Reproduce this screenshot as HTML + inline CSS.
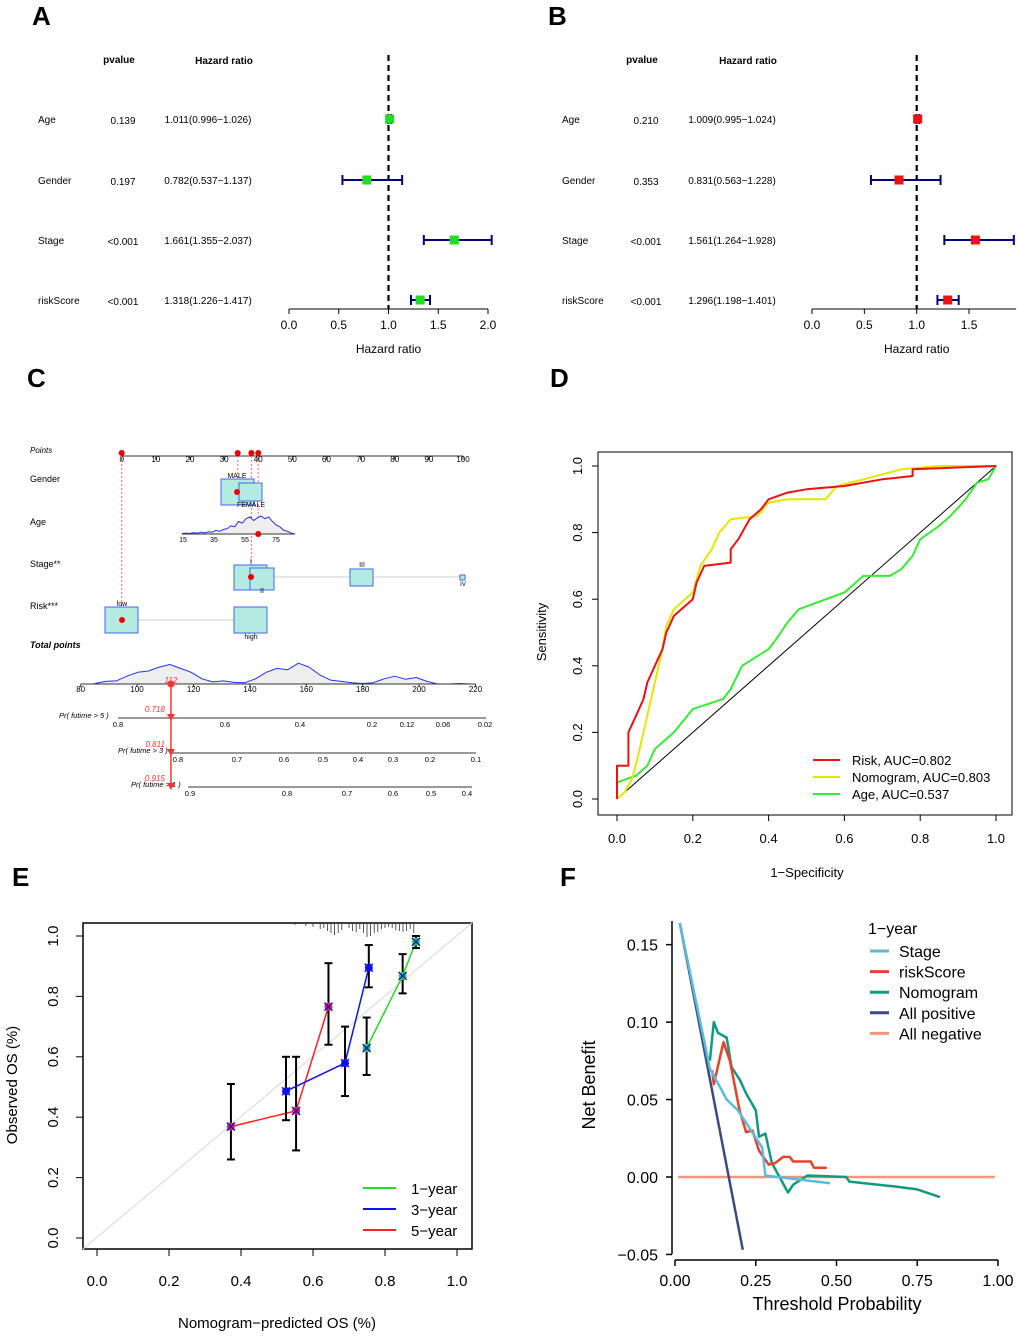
<!DOCTYPE html>
<html><head><meta charset="utf-8">
<style>
html,body{margin:0;padding:0;background:#fff;}
svg{display:block;font-family:"Liberation Sans",Arial,sans-serif;}
</style></head>
<body>
<svg id="fig" width="1020" height="1336" viewBox="0 0 1020 1336" xmlns="http://www.w3.org/2000/svg">
<g font-size="26" font-weight="bold">
<text x="32" y="25">A</text>
<text x="548" y="25">B</text>
<text x="27" y="387">C</text>
<text x="550" y="387">D</text>
<text x="12" y="886">E</text>
<text x="560" y="886">F</text>
</g>
</svg>
<script>
const NS='http://www.w3.org/2000/svg';
const svg=document.getElementById('fig');
function mk(tag,attrs,name,parent){
  const el=document.createElementNS(NS,tag);
  for(const k in attrs) el.setAttribute(k,attrs[k]);
  
  
  (parent||svg).appendChild(el);
  return el;
}
function txt(x,y,s,size,name,opt){
  opt=opt||{};
  const a={x:x,y:y,'font-size':size,'text-anchor':opt.anchor||'start',fill:opt.fill||'#000'};
  if(opt.rot!==undefined) a.transform='rotate('+opt.rot+' '+x+' '+y+')';
  if(opt.italic) a['font-style']='italic';
  if(opt.bold) a['font-weight']='bold';
  const t=mk('text',a,name);
  t.textContent=s;
  return t;
}
function line(x1,y1,x2,y2,stroke,w,name,dash){
  const a={x1:x1,y1:y1,x2:x2,y2:y2,stroke:stroke,'stroke-width':w};
  if(dash) a['stroke-dasharray']=dash;
  return mk('line',a,name);
}
function poly(pts,stroke,w,name,fill){
  return mk('polyline',{points:pts.map(p=>p[0].toFixed(1)+','+p[1].toFixed(1)).join(' '),fill:fill||'none',stroke:stroke,'stroke-width':w,'stroke-linejoin':'round'},name);
}

/* ===== Forest plots A & B ===== */
const forestVars=['Age','Gender','Stage','riskScore'];
const forestA_p=['0.139','0.197','<0.001','<0.001'];
const forestA_hr=[1.011,0.782,1.661,1.318];
const forestA_lo=[0.996,0.537,1.355,1.226];
const forestA_hi=[1.026,1.137,2.037,1.417];
const forestB_p=['0.210','0.353','<0.001','<0.001'];
const forestB_hr=[1.009,0.831,1.561,1.296];
const forestB_lo=[0.995,0.563,1.264,1.198];
const forestB_hi=[1.024,1.228,1.928,1.401];
const forestA_ticks=[0,0.5,1.0,1.5,2.0];
const forestB_ticks=[0,0.5,1.0,1.5];
function forest(o){
  const X=v=>o.x0+v*o.scale;
  const rowY=[119,180,240,300];
  txt(o.px,63,'pvalue',10,'pvalue-header',{anchor:'middle',bold:true});
  txt(o.hx,64,'Hazard ratio',10,'hazard-ratio-header',{anchor:'middle',bold:true});
  line(X(1),55,X(1),309,'#000',2.2,'reference-line','6,4');
  forestVars.forEach((v,i)=>{
    const y=rowY[i];
    txt(o.lx,y+4,v,10,'variable-label-'+v.toLowerCase());
    txt(o.px+4,y+5,o.p[i],10,'pvalue-'+v.toLowerCase(),{anchor:'middle'});
    txt(o.hx-16,y+4,o.hr[i].toFixed(3)+'('+o.lo[i].toFixed(3)+'\u2212'+o.hi[i].toFixed(3)+')',10,'hr-text-'+v.toLowerCase(),{anchor:'middle'});
    line(X(o.lo[i]),y,X(o.hi[i]),y,'#00007F',2,'ci-line-'+v.toLowerCase());
    line(X(o.lo[i]),y-5,X(o.lo[i]),y+5,'#00007F',2,'ci-cap-low');
    line(X(o.hi[i]),y-5,X(o.hi[i]),y+5,'#00007F',2,'ci-cap-high');
    mk('rect',{x:X(o.hr[i])-4.5,y:y-4.5,width:9,height:9,fill:o.col},'hr-point-'+v.toLowerCase());
  });
  line(X(0),309,X(o.axEnd),309,'#000',1,'x-axis-line');
  o.ticks.forEach(t=>{
    line(X(t),309,X(t),314,'#000',1,'x-tick');
    txt(X(t),329,t.toFixed(1),12,'x-tick-label',{anchor:'middle'});
  });
  txt(X(1),353,'Hazard ratio',12,'x-axis-title',{anchor:'middle'});
}
forest({x0:289,scale:99.5,px:119,hx:224,lx:38,p:forestA_p,hr:forestA_hr,lo:forestA_lo,hi:forestA_hi,col:'#22dd22',ticks:forestA_ticks,axEnd:2.0});
forest({x0:812,scale:104.7,px:642,hx:748,lx:562,p:forestB_p,hr:forestB_hr,lo:forestB_lo,hi:forestB_hi,col:'#ee1111',ticks:forestB_ticks,axEnd:1.95});

/* ===== Nomogram C ===== */
const nomoPointsTicks=[0,10,20,30,40,50,60,70,80,90,100];
const nomoTotalTicks=[80,100,120,140,160,180,200,220];
const nomoAgeTicks=[15,35,55,75];
const ageDensity=[0.02,0.05,0.03,0.08,0.04,0.1,0.06,0.12,0.1,0.2,0.15,0.25,0.3,0.45,0.4,0.7,0.6,0.85,0.95,0.75,0.9,1.0,0.85,0.95,0.7,0.5,0.4,0.2,0.15,0.05,0.0];
const totalDensity=[0.02,0.1,0.12,0.3,0.45,0.5,0.65,0.75,0.6,0.45,0.2,0.08,0.12,0.06,0.05,0.2,0.45,0.6,0.55,0.8,0.65,0.35,0.15,0.1,0.05,0.02,0.05,0.2,0.3,0.18,0.25,0.1,0.0,0.0,0.02,0.0];
const pr5Ticks=['0.8','0.6','0.4','0.2','0.12','0.06','0.02'];
const pr3Ticks=['0.8','0.7','0.6','0.5','0.4','0.3','0.2','0.1'];
const pr1Ticks=['0.9','0.8','0.7','0.6','0.5','0.4'];
const totalScore=112, pr5Val='0.718', pr3Val='0.811', pr1Val='0.915';
(function(){
  const PX=v=>121.7+v*3.413;
  const TX=v=>80.7+(v-80)*2.82;
  const fs=8;
  txt(30,453,'Points',8,'points-label',{italic:true});
  line(PX(0),456,PX(100),456,'#333',1,'points-axis');
  nomoPointsTicks.forEach(t=>{line(PX(t),456,PX(t),460,'#333',1,'points-tick');txt(PX(t),462,String(t),fs,'points-tick-label',{anchor:'middle'});});
  txt(30,482,'Gender',9,'gender-label');
  txt(30,525,'Age',9,'age-label');
  txt(30,567,'Stage**',9,'stage-label');
  txt(30,609,'Risk***',9,'risk-label');
  txt(30,648,'Total points',9,'total-points-label',{italic:true,bold:true});
  [0,34,38,40].forEach(v=>line(PX(v),456,PX(v),v==0?620:(v==34?492:(v==38?577:534)),'#f66',1,'guide-line','2,2'));
  [0,34,38,40].forEach(v=>mk('circle',{cx:PX(v),cy:453,r:3,fill:'#e00'},'selected-point'));
  mk('rect',{x:221,y:479,width:33,height:26,fill:'#b3ebe0',stroke:'#4466ee'},'gender-male-box');
  mk('rect',{x:239,y:483,width:23,height:18,fill:'#b3ebe0',stroke:'#4466ee'},'gender-female-box');
  txt(237,478,'MALE',7,'male-label',{anchor:'middle'});
  txt(251,507,'FEMALE',7,'female-label',{anchor:'middle'});
  mk('circle',{cx:237,cy:492,r:3,fill:'#e00'},'gender-point');
  const ax0=182,ax1=295,ay=534;
  const pts=ageDensity.map((d,i)=>[ax0+i*(ax1-ax0)/(ageDensity.length-1),ay-d*18]);
  poly([[ax0,ay]].concat(pts,[[ax1,ay]]),'#2233ee',1,'age-density',"#eee");
  line(ax0,ay,ax1,ay,'#333',1,'age-axis');
  const AX=a=>183+(a-15)*1.55;
  nomoAgeTicks.forEach(t=>txt(AX(t),542,String(t),7,'age-tick-label',{anchor:'middle'}));
  mk('circle',{cx:PX(40),cy:534,r:3,fill:'#e00'},'age-point');
  line(262,577,462,577,'#ccc',1,'stage-line');
  mk('rect',{x:234,y:565,width:33,height:25,fill:'#b3ebe0',stroke:'#4466ee'},'stage-i-box');
  mk('rect',{x:250,y:568,width:24,height:22,fill:'#b3ebe0',stroke:'#4466ee'},'stage-ii-box');
  mk('rect',{x:350,y:569,width:23,height:17,fill:'#b3ebe0',stroke:'#4466ee'},'stage-iii-box');
  mk('rect',{x:460,y:575,width:5,height:5,fill:'#b3ebe0',stroke:'#4466ee'},'stage-iv-box');
  txt(251,564,'I',7,'stage-i-label',{anchor:'middle'});
  txt(262,593,'II',7,'stage-ii-label',{anchor:'middle'});
  txt(362,567,'III',7,'stage-iii-label',{anchor:'middle'});
  txt(463,586,'IV',6,'stage-iv-label',{anchor:'middle'});
  mk('circle',{cx:251,cy:577,r:3,fill:'#e00'},'stage-point');
  line(138,620,234,620,'#ccc',1,'risk-line');
  mk('rect',{x:105,y:607,width:33,height:26,fill:'#b3ebe0',stroke:'#4466ee'},'risk-low-box');
  mk('rect',{x:234,y:607,width:33,height:26,fill:'#b3ebe0',stroke:'#4466ee'},'risk-high-box');
  txt(122,606,'low',7,'risk-low-label',{anchor:'middle'});
  txt(251,639,'high',7,'risk-high-label',{anchor:'middle'});
  mk('circle',{cx:122,cy:620,r:3,fill:'#e00'},'risk-point');
  const t0=TX(85),t1=TX(218),ty=684;
  const tp=totalDensity.map((d,i)=>[t0+i*(t1-t0)/(totalDensity.length-1),ty-d*26]);
  poly([[t0,ty]].concat(tp,[[t1,ty]]),'#2233ee',1,'total-density','#eee');
  line(TX(80),ty,TX(220),ty,'#333',1,'total-axis');
  nomoTotalTicks.forEach(t=>{line(TX(t),ty,TX(t),ty+3,'#333',1,'total-tick');txt(TX(t),692,String(t),8,'total-tick-label',{anchor:'middle'});});
  const prAxis=(y,x0,x1,ticks,pos,label,lx,name)=>{
    line(x0,y,x1,y,'#333',1,name+'-axis');
    ticks.forEach((t,i)=>txt(pos[i],y+9,t,7.5,name+'-tick-label',{anchor:'middle'}));
    txt(lx,y,label,7.5,name+'-label',{italic:true});
  };
  prAxis(718,118,486,pr5Ticks,[118,225,300,372,407,443,485],'Pr( futime > 5 )',59,'pr5');
  prAxis(753,171,476,pr3Ticks,[178,237,284,323,358,393,430,476],'Pr( futime > 3 )',118,'pr3');
  prAxis(787,188,472,pr1Ticks,[190,287,347,393,431,467],'Pr( futime > 1 )',131,'pr1');
  const sx=TX(totalScore);
  line(sx,684,sx,787,'#f33',1.5,'total-score-line');
  mk('circle',{cx:sx,cy:684,r:3.5,fill:'#f33'},'total-score-point');
  txt(sx,683,String(totalScore),8,'total-score-value',{anchor:'middle',fill:'#f33',italic:true});
  [[718,pr5Val],[753,pr3Val],[787,pr1Val]].forEach(([y,v])=>{
    mk('polygon',{points:(sx-4)+','+(y-4)+' '+(sx+4)+','+(y-4)+' '+sx+','+(y+3),fill:'#f33'},'prob-marker');
    txt(sx-6,y-6,v,8,'prob-value',{anchor:'end',fill:'#f33',italic:true});
  });
})();

/* ===== ROC D ===== */
const rocRiskFpr=[0,0,0.03,0.03,0.05,0.07,0.08,0.1,0.12,0.13,0.15,0.18,0.2,0.21,0.23,0.3,0.3,0.32,0.33,0.35,0.38,0.4,0.45,0.5,0.6,0.7,0.78,0.78,1];
const rocRiskTpr=[0,0.1,0.1,0.2,0.25,0.3,0.35,0.4,0.45,0.5,0.55,0.58,0.6,0.65,0.7,0.71,0.75,0.78,0.8,0.84,0.87,0.9,0.92,0.93,0.94,0.96,0.97,0.99,1];
const rocNomoFpr=[0,0.02,0.04,0.06,0.08,0.1,0.12,0.13,0.15,0.2,0.22,0.25,0.27,0.3,0.37,0.4,0.45,0.55,0.58,0.65,0.75,0.85,1];
const rocNomoTpr=[0,0.02,0.06,0.15,0.25,0.35,0.45,0.52,0.57,0.62,0.7,0.75,0.8,0.84,0.85,0.89,0.9,0.9,0.94,0.96,0.99,1,1];
const rocAgeFpr=[0,0,0.05,0.08,0.1,0.15,0.2,0.28,0.3,0.33,0.4,0.42,0.45,0.48,0.6,0.65,0.72,0.75,0.78,0.8,0.85,0.88,0.92,0.95,0.98,1];
const rocAgeTpr=[0,0.05,0.07,0.1,0.15,0.2,0.27,0.3,0.33,0.4,0.45,0.48,0.53,0.57,0.62,0.67,0.67,0.69,0.73,0.78,0.82,0.85,0.9,0.95,0.96,1];
const rocTicks=[0,0.2,0.4,0.6,0.8,1.0];
const rocLegend=['Risk, AUC=0.802','Nomogram, AUC=0.803','Age, AUC=0.537'];
(function(){
  const X=v=>617+v*379, Y=v=>799-v*333;
  mk('rect',{x:598,y:452,width:414,height:363,fill:'none',stroke:'#000','stroke-width':1},'roc-plot-frame');
  line(X(0),Y(0),X(1),Y(1),'#000',1,'roc-diagonal');
  rocTicks.forEach(t=>{
    line(X(t),815,X(t),821,'#000',1,'x-tick');
    txt(X(t),843,t.toFixed(1),13,'x-tick-label',{anchor:'middle'});
    line(592,Y(t),598,Y(t),'#000',1,'y-tick');
    txt(582,Y(t),t.toFixed(1),13,'y-tick-label',{anchor:'middle',rot:-90});
  });
  txt(807,877,'1\u2212Specificity',13,'x-axis-title',{anchor:'middle'});
  txt(546,632,'Sensitivity',13,'y-axis-title',{anchor:'middle',rot:-90});
  const draw=(fx,ty,c,n)=>poly(fx.map((f,i)=>[X(f),Y(ty[i])]),c,2,n);
  draw(rocAgeFpr,rocAgeTpr,'#33ee33','roc-age-curve');
  draw(rocNomoFpr,rocNomoTpr,'#e6e600','roc-nomogram-curve');
  draw(rocRiskFpr,rocRiskTpr,'#ee1111','roc-risk-curve');
  const cols=['#ee1111','#e6e600','#33ee33'];
  rocLegend.forEach((s,i)=>{
    line(813,760+i*17,840,760+i*17,cols[i],2,'legend-line');
    txt(852,765+i*17,s,13,'legend-entry');
  });
})();

/* ===== Calibration E ===== */
const cal1Pred=[0.749,0.849,0.886], cal1Obs=[0.629,0.868,0.981], cal1Lo=[0.54,0.81,0.96], cal1Hi=[0.73,0.94,1.0];
const cal3Pred=[0.525,0.689,0.755], cal3Obs=[0.486,0.579,0.895], cal3Lo=[0.39,0.47,0.83], cal3Hi=[0.60,0.70,0.97];
const cal5Pred=[0.372,0.553,0.643], cal5Obs=[0.369,0.421,0.766], cal5Lo=[0.26,0.29,0.64], cal5Hi=[0.51,0.60,0.91];
const calTicks=[0,0.2,0.4,0.6,0.8,1.0];
const calRug=[0.55,0.58,0.6,0.62,0.63,0.64,0.65,0.66,0.67,0.68,0.7,0.71,0.72,0.73,0.74,0.75,0.76,0.77,0.78,0.79,0.8,0.81,0.82,0.83,0.84,0.85,0.86,0.87,0.88];
const calRugH=[2,3,4,6,5,8,10,12,10,7,5,8,9,6,10,14,13,10,9,6,5,4,5,7,8,9,8,6,10];
(function(){
  const X=v=>97+v*360, Y=v=>1238-v*302;
  mk('rect',{x:83,y:923,width:389,height:326,fill:'none',stroke:'#000','stroke-width':1.5},'calibration-plot-frame');
  line(83,1249,472,923,'#ddd',1.2,'ideal-line');
  calTicks.forEach(t=>{
    line(X(t),1249,X(t),1256,'#000',1,'x-tick');
    txt(X(t),1286,t.toFixed(1),15,'x-tick-label',{anchor:'middle'});
    line(76,Y(t),83,Y(t),'#000',1,'y-tick');
    txt(58,Y(t),t.toFixed(1),15,'y-tick-label',{anchor:'middle',rot:-90});
  });
  calRug.forEach((r,i)=>line(X(r),923,X(r),923+calRugH[i],'#333',0.8,'rug-tick'));
  txt(277,1328,'Nomogram\u2212predicted OS (%)',15,'x-axis-title',{anchor:'middle'});
  txt(17,1085,'Observed OS (%)',15,'y-axis-title',{anchor:'middle',rot:-90});
  const series=[[cal5Pred,cal5Obs,cal5Lo,cal5Hi,'#ff2222','5-year'],[cal3Pred,cal3Obs,cal3Lo,cal3Hi,'#1111ee','3-year'],[cal1Pred,cal1Obs,cal1Lo,cal1Hi,'#22dd22','1-year']];
  series.forEach(([p,o,lo,hi,c,n])=>{
    poly(p.map((v,i)=>[X(v),Y(o[i])]),c,1.5,'calibration-line-'+n);
    p.forEach((v,i)=>{
      line(X(v),Y(lo[i]),X(v),Y(hi[i]),'#000',2,'error-bar');
      line(X(v)-4,Y(lo[i]),X(v)+4,Y(lo[i]),'#000',2,'error-cap');
      line(X(v)-4,Y(hi[i]),X(v)+4,Y(hi[i]),'#000',2,'error-cap');
      mk('circle',{cx:X(v),cy:Y(o[i]),r:4,fill:c},'calibration-point-'+n);
      line(X(v)-4,Y(o[i])-4,X(v)+4,Y(o[i])+4,'#1111ee',1.5,'calibration-cross');
      line(X(v)-4,Y(o[i])+4,X(v)+4,Y(o[i])-4,'#1111ee',1.5,'calibration-cross');
    });
  });
  [['1\u2212year','#22dd22'],['3\u2212year','#1111ee'],['5\u2212year','#ff2222']].forEach(([s,c],i)=>{
    line(363,1188+i*21,396,1188+i*21,c,2,'legend-line');
    txt(411,1194+i*21,s,15,'legend-entry');
  });
})();

/* ===== DCA F ===== */
const dcaTicksX=[0,0.25,0.5,0.75,1.0];
const dcaTicksY=[0.15,0.10,0.05,0.00,-0.05];
const dcaStageX=[0.015,0.108,0.16,0.195,0.27,0.28,0.48];
const dcaStageY=[0.164,0.07,0.05,0.043,0.019,0.001,-0.004];
const dcaRiskX=[0.115,0.12,0.15,0.17,0.2,0.22,0.24,0.26,0.29,0.31,0.335,0.355,0.366,0.42,0.43,0.47];
const dcaRiskY=[0.069,0.06,0.087,0.075,0.043,0.029,0.03,0.017,0.008,0.009,0.013,0.013,0.01,0.01,0.006,0.006];
const dcaNomoX=[0.108,0.12,0.133,0.16,0.175,0.2,0.22,0.25,0.26,0.28,0.3,0.35,0.366,0.41,0.53,0.54,0.675,0.75,0.82];
const dcaNomoY=[0.075,0.1,0.093,0.09,0.071,0.063,0.054,0.043,0.026,0.028,0.009,-0.01,-0.005,0.001,0,-0.003,-0.006,-0.008,-0.013];
const dcaAllPosX=[0.015,0.21];
const dcaAllPosY=[0.164,-0.047];
const dcaAllNegX=[0.01,0.99];
const dcaAllNegY=[0,0];
(function(){
  const X=v=>675+v*323, Y=v=>1177-v*1549;
  line(672,921,672,1254,'#000',1.5,'y-axis-line');
  line(675,1260,998,1260,'#000',1.5,'x-axis-line');
  dcaTicksY.forEach(t=>{
    line(666,Y(t),672,Y(t),'#000',1.5,'y-tick');
    txt(658,Y(t)+6,t<0?'\u22120.05':t.toFixed(2),16,'y-tick-label',{anchor:'end'});
  });
  dcaTicksX.forEach(t=>{
    line(X(t),1260,X(t),1266,'#000',1.5,'x-tick');
    txt(X(t),1286,t.toFixed(2),16,'x-tick-label',{anchor:'middle'});
  });
  txt(837,1310,'Threshold Probability',18,'x-axis-title',{anchor:'middle'});
  txt(595,1085,'Net Benefit',18,'y-axis-title',{anchor:'middle',rot:-90});
  const d=(xs,ys,c,n)=>poly(xs.map((v,i)=>[X(v),Y(ys[i])]),c,2.5,n);
  d(dcaAllNegX,dcaAllNegY,'#f4947c','all-negative-curve');
  d(dcaAllPosX,dcaAllPosY,'#3b4a85','all-positive-curve');
  d(dcaNomoX,dcaNomoY,'#109a80','nomogram-curve');
  d(dcaRiskX,dcaRiskY,'#e8412c','riskscore-curve');
  d(dcaStageX,dcaStageY,'#5bbcd8','stage-curve');
  txt(868,934,'1\u2212year',16,'legend-title');
  [['Stage','#5bbcd8'],['riskScore','#e8412c'],['Nomogram','#109a80'],['All positive','#3b4a85'],['All negative','#f4947c']].forEach(([s,c],i)=>{
    const y=951+i*20.6;
    line(870,y,889,y,c,3,'legend-line');
    txt(899,y+6,s,16,'legend-entry');
  });
})();
</script>
</body></html>
